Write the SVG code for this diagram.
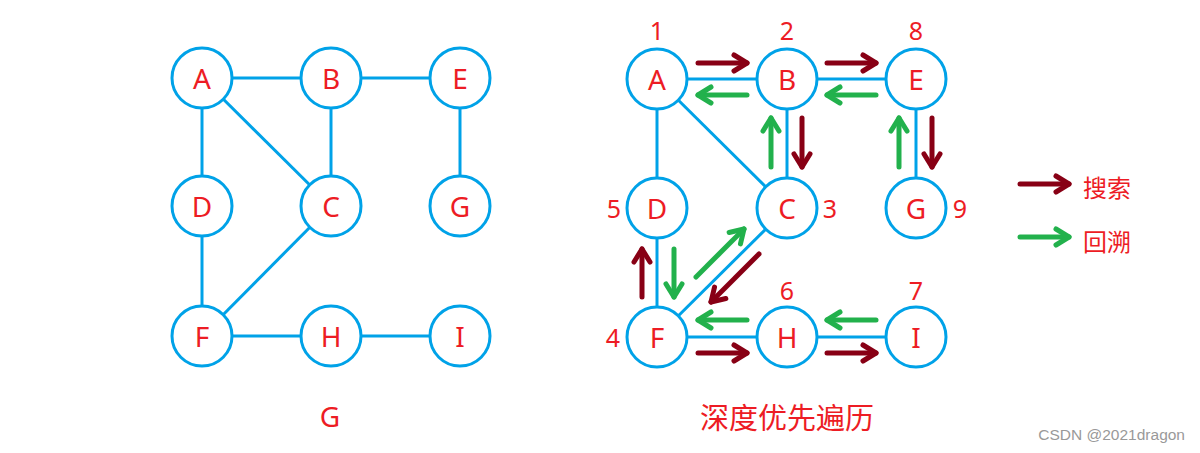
<svg xmlns="http://www.w3.org/2000/svg" width="1200" height="453" viewBox="0 0 1200 453">
<style>
.n circle{fill:#fff;stroke:#00a2e8;stroke-width:3}
.n text,.lab{font-family:"Noto Sans","Liberation Sans",sans-serif;font-size:28px;fill:#ed1c24;text-anchor:middle;dominant-baseline:central}
.num{font-family:"Noto Sans","Liberation Sans",sans-serif;font-size:25px;fill:#ed1c24;text-anchor:middle;dominant-baseline:central}
.e{stroke:#00a2e8;stroke-width:3}
.s{stroke:#880015;stroke-width:5;stroke-linecap:round;fill:none;marker-end:url(#hs)}
.b{stroke:#22b14c;stroke-width:5;stroke-linecap:round;fill:none;marker-end:url(#hb)}
.cjk{font-family:"Noto Sans CJK SC",sans-serif;fill:#ed1c24;dominant-baseline:central}
</style>
<defs>
<marker id="hs" markerUnits="userSpaceOnUse" markerWidth="24" markerHeight="24" viewBox="-18 -12 24 24" refX="0" refY="0" orient="auto">
<path d="M-13 -8 L0 0 L-13 8" fill="none" stroke="#880015" stroke-width="5" stroke-linecap="round" stroke-linejoin="round"/>
</marker>
<marker id="hb" markerUnits="userSpaceOnUse" markerWidth="24" markerHeight="24" viewBox="-18 -12 24 24" refX="0" refY="0" orient="auto">
<path d="M-13 -8 L0 0 L-13 8" fill="none" stroke="#22b14c" stroke-width="5" stroke-linecap="round" stroke-linejoin="round"/>
</marker>
</defs>
<g id="connectors">
<line class="e" x1="202" y1="78" x2="331" y2="78"/>
<line class="e" x1="331" y1="78" x2="460" y2="78"/>
<line class="e" x1="202" y1="78" x2="202" y2="206"/>
<line class="e" x1="202" y1="78" x2="331" y2="206"/>
<line class="e" x1="331" y1="78" x2="331" y2="206"/>
<line class="e" x1="460" y1="78" x2="460" y2="206"/>
<line class="e" x1="202" y1="206" x2="202" y2="336"/>
<line class="e" x1="331" y1="206" x2="202" y2="336"/>
<line class="e" x1="202" y1="336" x2="331" y2="336"/>
<line class="e" x1="331" y1="336" x2="460" y2="336"/>
<line class="e" x1="657" y1="79" x2="787" y2="79"/>
<line class="e" x1="787" y1="79" x2="916" y2="79"/>
<line class="e" x1="657" y1="79" x2="657" y2="208"/>
<line class="e" x1="657" y1="79" x2="787" y2="208"/>
<line class="e" x1="787" y1="79" x2="787" y2="208"/>
<line class="e" x1="916" y1="79" x2="916" y2="208"/>
<line class="e" x1="657" y1="208" x2="657" y2="337"/>
<line class="e" x1="787" y1="208" x2="657" y2="337"/>
<line class="e" x1="657" y1="337" x2="787" y2="337"/>
<line class="e" x1="787" y1="337" x2="916" y2="337"/>
<line class="s" x1="698" y1="63" x2="747" y2="63"/>
<line class="b" x1="747" y1="95" x2="698" y2="95"/>
<line class="s" x1="827" y1="63" x2="876" y2="63"/>
<line class="b" x1="876" y1="95" x2="827" y2="95"/>
<line class="b" x1="771" y1="167" x2="771" y2="118"/>
<line class="s" x1="802" y1="118" x2="802" y2="167"/>
<line class="b" x1="899" y1="167" x2="899" y2="118"/>
<line class="s" x1="932" y1="118" x2="932" y2="167"/>
<line class="s" x1="642" y1="297" x2="642" y2="249"/>
<line class="b" x1="674" y1="249" x2="674" y2="297"/>
<line class="b" x1="696" y1="277" x2="744" y2="229"/>
<line class="s" x1="759" y1="254" x2="711" y2="302"/>
<line class="b" x1="747" y1="320" x2="698" y2="320"/>
<line class="s" x1="698" y1="353" x2="747" y2="353"/>
<line class="b" x1="876" y1="320" x2="827" y2="320"/>
<line class="s" x1="827" y1="353" x2="876" y2="353"/>
<line class="s" x1="1020" y1="184" x2="1069" y2="184"/>
<line class="b" x1="1020" y1="237" x2="1069" y2="237"/>
</g>
<g id="gA" class="n"><circle cx="202" cy="78" r="30"/><text x="202" y="78">A</text></g>
<g id="gB" class="n"><circle cx="331" cy="78" r="30"/><text x="331" y="78">B</text></g>
<g id="gE" class="n"><circle cx="460" cy="78" r="30"/><text x="460" y="78">E</text></g>
<g id="gD" class="n"><circle cx="202" cy="206" r="30"/><text x="202" y="206">D</text></g>
<g id="gC" class="n"><circle cx="331" cy="206" r="30"/><text x="331" y="206">C</text></g>
<g id="gG" class="n"><circle cx="460" cy="206" r="30"/><text x="460" y="206">G</text></g>
<g id="gF" class="n"><circle cx="202" cy="336" r="30"/><text x="202" y="336">F</text></g>
<g id="gH" class="n"><circle cx="331" cy="336" r="30"/><text x="331" y="336">H</text></g>
<g id="gI" class="n"><circle cx="460" cy="336" r="30"/><text x="460" y="336">I</text></g>
<g id="dA" class="n"><circle cx="657" cy="79" r="30"/><text x="657" y="79">A</text></g>
<g id="dB" class="n"><circle cx="787" cy="79" r="30"/><text x="787" y="79">B</text></g>
<g id="dE" class="n"><circle cx="916" cy="79" r="30"/><text x="916" y="79">E</text></g>
<g id="dD" class="n"><circle cx="657" cy="208" r="30"/><text x="657" y="208">D</text></g>
<g id="dC" class="n"><circle cx="787" cy="208" r="30"/><text x="787" y="208">C</text></g>
<g id="dG" class="n"><circle cx="916" cy="208" r="30"/><text x="916" y="208">G</text></g>
<g id="dF" class="n"><circle cx="657" cy="337" r="30"/><text x="657" y="337">F</text></g>
<g id="dH" class="n"><circle cx="787" cy="337" r="30"/><text x="787" y="337">H</text></g>
<g id="dI" class="n"><circle cx="916" cy="337" r="30"/><text x="916" y="337">I</text></g>
<g id="numbers">
<text class="num" x="657" y="30">1</text>
<text class="num" x="787" y="30">2</text>
<text class="num" x="916" y="30">8</text>
<text class="num" x="614" y="208">5</text>
<text class="num" x="830" y="208">3</text>
<text class="num" x="960" y="208">9</text>
<text class="num" x="613" y="337">4</text>
<text class="num" x="787" y="290">6</text>
<text class="num" x="916" y="290">7</text>
</g>
<g id="legend">
<text class="cjk" x="1083" y="186" font-size="24">搜索</text>
<text class="cjk" x="1083" y="240" font-size="24">回溯</text>
</g>
<text class="lab" x="330" y="416">G</text>
<text class="cjk" x="787" y="416" font-size="29" text-anchor="middle">深度优先遍历</text>
<text x="1185" y="440" font-family="'Liberation Sans',sans-serif" font-size="15.5" fill="#999" text-anchor="end">CSDN @2021dragon</text>
</svg>
